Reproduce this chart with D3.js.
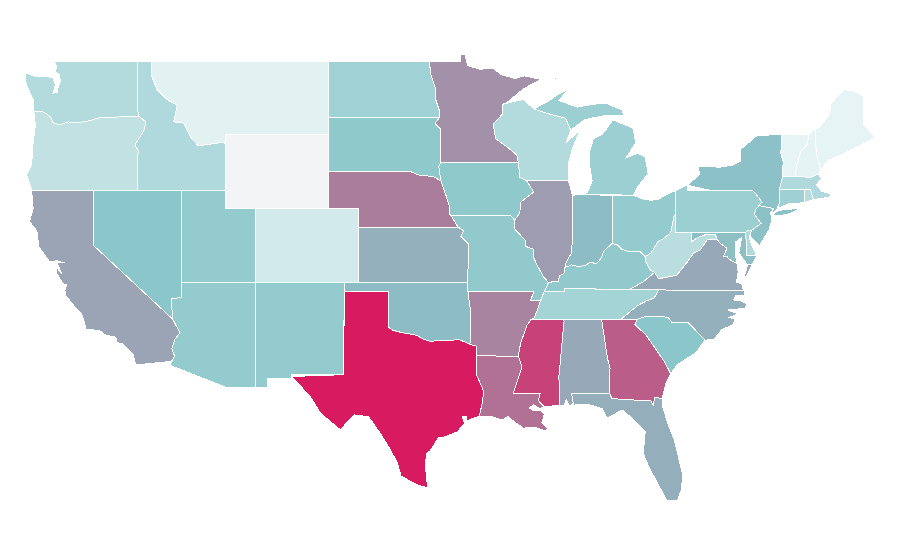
<!DOCTYPE html>
<html><head><meta charset="utf-8"><title>US states choropleth</title>
<style>html,body{margin:0;background:#fff}svg{display:block}</style>
<script src="https://cdn.jsdelivr.net/npm/d3@7/dist/d3.min.js"></script></head>
<body><svg id="map" width="900" height="560"></svg>
<script>
// Values
const stateNames=["Alabama","Arizona","Arkansas","California","Colorado","Connecticut","Delaware","Florida","Georgia","Idaho","Illinois","Indiana","Iowa","Kansas","Kentucky","Louisiana","Maine","Maryland","Massachusetts","Michigan","Minnesota","Mississippi","Missouri","Montana","Nebraska","Nevada","New Hampshire","New Jersey","New Mexico","New York","North Carolina","North Dakota","Ohio","Oklahoma","Oregon","Pennsylvania","Rhode Island","South Carolina","South Dakota","Tennessee","Texas","Utah","Vermont","Virginia","Washington","West Virginia","Wisconsin","Wyoming"];
const stateValues=[42,27,57,44,8.6,24,19,40,73,19,47,34,28.5,39,28,65,3,33,19,25,52,84,28,4.2,60,30,3.6,32,27.6,32,39,23.6,27,34,14,25,17,30,28.5,22,100,27,3,42,18,16,18,0];
const colorDomain=[0,3,30,100];
const colorRange=["#f3f4f6","#e6f4f5","#8ac6ca","#d81b60"];

// Shared boundaries, longitude / latitude
const columbia=[[-124.05,46.25],[-123.5,46.25],[-123.2,46.15],[-122.9,45.95],[-122.75,45.65],[-122.3,45.55],[-121.7,45.7],[-121.2,45.65],[-120.5,45.72],[-119.6,45.92],[-119,45.95],[-116.92,46]];
const snake=[[-116.92,46],[-116.45,45.7],[-116.6,45.2],[-116.85,44.9],[-117.2,44.45],[-117.05,44.25],[-116.95,44.1],[-117.03,43.8],[-117.03,42]];
const idahoMontana=[[-116.05,49],[-116.05,48.15],[-115.7,47.45],[-115,46.9],[-114.33,46.6],[-114.57,45.7],[-113.9,45.64],[-113.45,44.9],[-112.9,44.4],[-111.2,44.6],[-111.05,44.5]];
const coloradoRiver=[[-114.63,35],[-114.15,34.27],[-114.5,33.9],[-114.7,33.4],[-114.5,33],[-114.72,32.72]];
const redNorth=[[-97.23,49],[-97.15,48.3],[-96.85,47.6],[-96.8,46.9],[-96.55,46.3],[-96.56,45.93]];
const sdMn=[[-96.56,45.93],[-96.85,45.6],[-96.45,45.3],[-96.45,43.5]];
const missouriUpper=[[-96.45,43.5],[-96.6,43.3],[-96.45,42.5]];
const sdNe=[[-104.05,43],[-98.5,43],[-97.9,42.8],[-97,42.75],[-96.45,42.5]];
const missouriIaNe=[[-96.45,42.5],[-96.1,41.7],[-95.9,41.2],[-95.85,40.7],[-95.75,40.6]];
const missouriMoNe=[[-95.75,40.6],[-95.3,40]];
const missouriKs=[[-95.3,40],[-94.9,39.8],[-95.1,39.5],[-94.6,39.1],[-94.62,37]];
const redSouth=[[-100,34.56],[-99.7,34.4],[-99.2,34.3],[-98.1,34.13],[-97.7,33.95],[-97.2,33.8],[-96.6,33.85],[-96,33.85],[-95.2,33.9],[-94.48,33.64]];
const arOk=[[-94.62,36.5],[-94.43,35.4],[-94.48,33.64]];
const arkTx=[[-94.48,33.64],[-94.04,33.55],[-94.04,33.02]];
const laTx=[[-94.04,33.02],[-94.04,32],[-93.55,31.1],[-93.65,30.45],[-93.85,29.75]];
const missUpper=[[-91.2,43.5],[-91.1,42.7],[-90.64,42.5]];
const mnWi=[[-92.05,46.7],[-92.3,46.65],[-92.3,46.1],[-92.9,45.6],[-92.75,44.8],[-91.9,44.3],[-91.3,43.9],[-91.2,43.5]];
const missIaIl=[[-90.64,42.5],[-90.15,41.9],[-91.05,41.35],[-91.1,40.75],[-91.45,40.38]];
const missMoIl=[[-91.45,40.38],[-91.45,39.9],[-90.75,39.3],[-90.7,38.95],[-90.15,38.8],[-90.2,38.4],[-89.9,37.9],[-89.5,37.3],[-89.15,37]];
const missMoKy=[[-89.15,37],[-89.45,36.5]];
const missMoTn=[[-89.45,36.5],[-89.7,36]];
const missArTn=[[-89.7,36],[-90.1,35.1],[-90.3,35]];
const missArMs=[[-90.3,35],[-90.6,34.7],[-91.05,33.7],[-91.2,33]];
const missLaMs=[[-91.2,33],[-90.95,32.4],[-91.55,31],[-89.72,30.98],[-89.85,30.6],[-89.45,30.25]];
const wabash=[[-87.53,39.35],[-87.6,38.6],[-87.95,38.1],[-88.05,37.8]];
const ohioIl=[[-88.05,37.8],[-88.1,37.5],[-88.4,37.35],[-88.5,37.07],[-89.15,37]];
const ohioIn=[[-84.85,39.1],[-85.4,38.7],[-85.6,38.3],[-85.9,38],[-86.3,38.1],[-86.6,37.95],[-87.1,37.85],[-87.6,37.95],[-88.05,37.8]];
const ohioOh=[[-82.6,38.4],[-83,38.7],[-83.65,38.65],[-84.2,38.8],[-84.5,39.05],[-84.85,39.1]];
const ohioWv=[[-80.52,40.64],[-80.65,40.6],[-80.87,39.7],[-81.4,39.35],[-81.75,39.2],[-82.2,38.6],[-82.6,38.4]];
const bigSandy=[[-82.6,38.4],[-82.55,38.1],[-82.3,37.7],[-81.97,37.54]];
const kyVa=[[-81.97,37.54],[-82.7,37.05],[-83.68,36.6]];
const wvVa=[[-81.97,37.54],[-81.7,37.22],[-81.25,37.25],[-80.45,37.4],[-79.75,38.1],[-79.3,38.6],[-78.87,38.76],[-78.4,39.3],[-77.72,39.32]];
const potomacUp=[[-79.48,39.2],[-79,39.45],[-78.4,39.62],[-77.85,39.6],[-77.72,39.32]];
const potomacLow=[[-77.72,39.32],[-77.5,39.1],[-77.05,38.85],[-77.3,38.4],[-77.05,38.4],[-76.9,38.25],[-76.35,38.0]];
const ncTn=[[-84.25,35],[-83.1,35.75],[-82.5,36],[-82,36.15],[-81.68,36.59]];
const gaSc=[[-83.15,35],[-83.3,34.72],[-82.55,34.15],[-81.9,33.4],[-81.3,32.7],[-80.87,32.05]];
const ncSc=[[-83.15,35],[-82.6,35.15],[-81.05,35.12],[-80.8,34.85],[-79.65,34.8],[-78.55,33.87]];
const alGa=[[-85.55,34.98],[-85.15,32.85],[-84.98,32.35],[-85.05,31.55],[-85,30.98]];
const alMs=[[-88.2,34.98],[-88.1,34.9],[-88.45,31.9],[-88.4,30.35]];
const flGa=[[-85,30.98],[-84.86,30.7],[-82.2,30.57],[-82.05,30.36],[-81.95,30.75],[-81.45,30.72]];
const delaware=[[-75.4,39.8],[-74.75,40.2],[-75.2,40.7],[-75.1,40.95],[-74.7,41.36]];
const paNy=[[-79.76,42],[-75.35,42],[-75.05,41.75],[-74.7,41.36]];
const vtNh=[[-71.5,45.01],[-71.6,44.5],[-72.05,44.1],[-72.35,43.3],[-72.45,42.73]];
const meNh=[[-71.08,45.3],[-71,44],[-70.7,43.1]];
const r=a=>a.slice().reverse();
const join=(...parts)=>[].concat(...parts);

const washingtonRing=join([[-122.76,49],[-122.5,48.75],[-122.6,48.4],[-122.35,48.3],[-122.25,47.95],[-122.4,47.6],[-122.45,47.3],[-122.75,47.25],[-122.6,47.7],[-122.75,48.1],[-123.2,48.15],[-124,48.17],[-124.65,48.37],[-124.65,47.9],[-124.35,47.35],[-124.1,46.9],[-124.05,46.6]],columbia,[[-117.04,46.4],[-117.04,49]]);
const oregonRing=join(columbia,snake,[[-120,42],[-124.2,42],[-124.55,42.85],[-124.2,43.4],[-124.1,44.6],[-123.95,45.5]]);
const idahoRing=join([[-117.04,49]],idahoMontana,[[-111.05,42],[-117.03,42]],r(snake),[[-117.04,46.4]]);
const montanaRing=join(idahoMontana.slice(0,1),[[-104.05,49],[-104.05,45],[-111.05,45]],r(idahoMontana));
const wyomingRing=[[-111.05,45],[-104.05,45],[-104.05,41],[-111.05,41]];
const californiaRing=join([[-124.2,42],[-120,42],[-120,39]],coloradoRiver,[[-117.12,32.53],[-117.25,32.85],[-117.3,33.1],[-118,33.65],[-118.4,33.75],[-118.5,34.03],[-119.2,34.15],[-119.6,34.4],[-120.5,34.45],[-120.65,34.9],[-120.85,35.35],[-121.3,35.7],[-121.9,36.3],[-121.95,36.6],[-121.8,36.85],[-122.1,36.95],[-122.5,37.5],[-122.5,37.8],[-122.15,37.45],[-122.4,37.9],[-122.45,38.08],[-121.95,38.05],[-122.5,38.18],[-122.95,38.1],[-123.7,38.9],[-123.85,39.8],[-124.35,40.3],[-124.1,41]]);
const nevadaRing=[[-120,42],[-114.05,42],[-114.05,36.2],[-114.75,36.1],[-114.63,35],[-120,39]];
const utahRing=[[-114.05,42],[-111.05,42],[-111.05,41],[-109.05,41],[-109.05,37],[-114.05,37]];
const arizonaRing=join([[-114.05,37],[-109.05,37],[-109.05,31.33],[-111.07,31.33],[-114.8,32.5]],r(coloradoRiver),[[-114.75,36.1],[-114.05,36.2]]);
const coloradoRing=[[-109.05,41],[-102.05,41],[-102.05,37],[-109.05,37]];
const newMexicoRing=[[-109.05,37],[-103,37],[-103.05,32],[-106.6,32],[-106.53,31.78],[-108.2,31.78],[-108.2,31.33],[-109.05,31.33]];
const northDakotaRing=join([[-104.05,49]],redNorth,[[-104.05,45.94]]);
const southDakotaRing=join([[-104.05,45.94]],sdMn,missouriUpper,r(sdNe));
const nebraskaRing=join(sdNe,missouriIaNe,missouriMoNe,[[-102.05,40],[-102.05,41],[-104.05,41]]);
const kansasRing=join([[-102.05,40]],missouriKs,[[-102.04,37]]);
const oklahomaRing=join([[-103,37],[-94.62,37]],arOk,r(redSouth),[[-100,36.5],[-103,36.5]]);
const texasRing=join([[-103.05,32],[-103,36.5],[-100,36.5]],redSouth,arkTx,laTx,[[-94.7,29.5],[-94.72,29.72],[-95,29.72],[-94.85,29.35],[-95.35,28.9],[-96.3,28.6],[-96.6,28.6],[-97.2,27.85],[-97.4,27.75],[-97.5,27.2],[-97.45,26.6],[-97.35,25.87],[-98.05,26.02],[-99.15,26.5],[-99.4,27.2],[-99.85,27.9],[-100.55,28.8],[-101.35,29.72],[-102.35,29.82],[-102.75,29.5],[-103.25,29],[-103.7,29.3],[-104.6,29.9],[-105.3,30.8],[-106.57,31.9]]);
const iowaRing=join([[-96.45,43.5],[-91.2,43.5]],missUpper.slice(1),missIaIl,[[-91.7,40.6],[-95.75,40.6]],r(missouriIaNe),r(missouriUpper));
const minnesotaRing=join(redNorth.slice(0,1),[[-95.15,49],[-95.15,49.35],[-94.8,49.33],[-94.65,48.75],[-93.8,48.55],[-92.95,48.62],[-92.35,48.25],[-91.4,48.05],[-90.8,48.2],[-89.65,48],[-90.85,47.5]],mnWi,[[-96.45,43.5]],r(sdMn),r(redNorth));
const missouriRing=join([[-95.75,40.6],[-91.7,40.6]],missMoIl,missMoKy,missMoTn,[[-90.38,36],[-90.15,36.5],[-94.62,36.5],[-94.62,37]],r(missouriKs),r(missouriMoNe));
const arkansasRing=join([[-94.62,36.5],[-90.15,36.5],[-90.38,36]],missArTn,missArMs,[[-94.04,33.02]],r(arkTx),r(arOk));
const louisianaRing=join([[-94.04,33.02]],missLaMs,[[-89.75,30.15],[-90.15,30.37],[-90.45,30.2],[-90.2,30.05],[-89.7,30.05],[-89.45,29.85],[-89.6,29.4],[-89.2,29.1],[-89.4,28.95],[-90.05,29.15],[-90.85,29.1],[-91.3,29.35],[-91.9,29.72],[-92.3,29.55],[-93.1,29.75]],r(laTx));
const wisconsinRing=join([[-92.05,46.7],[-91.2,46.87],[-90.8,46.9],[-90.15,46.4],[-89.1,46.13],[-88,45.9],[-87.65,45.25],[-87.95,44.6],[-87.05,45.2],[-87.55,44.2],[-87.8,43.45],[-87.8,42.5],[-90.64,42.5]],r(missUpper),r(mnWi));
const illinoisRing=join([[-87.8,42.5],[-87.53,41.72],[-87.53,39.35]],wabash.slice(1),ohioIl,r(missMoIl),r(missIaIl));
const indianaRing=join([[-87.53,41.72],[-87.2,41.75],[-86.8,41.76],[-84.8,41.72]],ohioIn,r(wabash));
const ohioRing=join([[-84.8,41.72],[-83.4,41.73],[-82.7,41.5],[-82.2,41.45],[-81.7,41.5],[-81.2,41.75],[-80.52,41.98]],ohioWv,ohioOh);
const michiganLower=[[-86.8,41.76],[-86.5,41.9],[-86.2,42.5],[-86.4,43.45],[-86.4,44],[-86.1,44.8],[-85.55,45],[-85.2,45.35],[-84.85,45.75],[-84.7,45.78],[-83.4,45.35],[-83.25,44.55],[-83.9,43.75],[-83.1,44],[-82.6,43.8],[-82.4,42.9],[-83.1,42.2],[-83.4,41.73]];
const michiganUpper=[[-90.15,46.4],[-89.1,46.85],[-88.6,47.15],[-87.85,47.45],[-88.45,46.85],[-87.2,46.5],[-86.2,46.65],[-85.3,46.72],[-84.5,46.45],[-84.15,46.35],[-84.05,46.05],[-85.2,46.05],[-86.3,45.9],[-86.75,45.8],[-87.65,45.25],[-88,45.9],[-89.1,46.13]];
const isleRoyale=[[-89,47.95],[-88.5,48.17],[-88.55,48.05]];
const kentuckyRing=join([[-89.45,36.5],[-88.07,36.5],[-88.07,36.68],[-83.68,36.6]],r(kyVa),r(bigSandy),ohioOh,ohioIn,ohioIl,missMoKy);
const tennesseeRing=join([[-89.45,36.5],[-88.07,36.5],[-88.07,36.68],[-83.68,36.6],[-81.68,36.59]],r(ncTn),[[-88.2,34.98],[-90.3,35]],r(missArTn),r(missMoTn));
const mississippiRing=join([[-90.3,35]],alMs,[[-89.45,30.25]],r(missLaMs),r(missArMs));
const alabamaRing=join(alGa,[[-87.6,30.98],[-87.45,30.45],[-87.75,30.3],[-87.95,30.65],[-88.1,30.35]],r(alMs));
const georgiaRing=join([[-85.55,34.98]],gaSc,[[-81.2,31.5]],r(flGa),r(alGa));
const floridaRing=join([[-87.6,30.98]],flGa,[[-81.45,30.35],[-81,29.2],[-80.6,28.4],[-80.35,27.55],[-80.05,26.55],[-80.15,25.75],[-80.4,25.2],[-81.1,25.15],[-81.65,25.95],[-82.35,27],[-82.75,27.75],[-82.65,28.4],[-82.6,28.9],[-83.35,29.55],[-84.15,30.08],[-85.2,29.65],[-85.5,30.15],[-86.5,30.4],[-87.45,30.35]]);
const southCarolinaRing=join(ncSc,[[-79.15,33.2],[-80.4,32.55]],r(gaSc));
const northCarolinaRing=join([[-84.25,35]],ncSc,[[-77.95,33.9],[-77.4,34.45],[-76.65,34.7],[-76.5,35],[-76.9,35.1],[-76.3,35.3],[-77,35.5],[-75.8,35.6],[-75.72,35.85],[-76.1,36],[-76.6,36.05],[-76.45,36.3],[-75.85,36.3],[-75.85,36.56],[-81.68,36.59]],r(ncTn));
const virginiaRing=join([[-83.68,36.6],[-81.68,36.59],[-75.95,36.56],[-76.05,36.92],[-76.4,37.02],[-76.3,37.55]],r(potomacLow),r(wvVa),kyVa);
const virginiaShore=[[-75.95,37.15],[-75.65,37.95],[-75.3,38],[-75.65,37.45]];
const westVirginiaRing=join(r(bigSandy),r(ohioWv),[[-80.52,39.72],[-79.48,39.72]],potomacUp,r(wvVa));
const marylandRing=join([[-79.48,39.72],[-75.79,39.72],[-75.7,38.46],[-75.05,38.45],[-75.3,38],[-75.65,37.95],[-75.9,38.2],[-76.25,38.6],[-76.05,39.45],[-76.45,39.2],[-76.5,38.5]],r(potomacLow),r(potomacUp));
const delawareRing=[[-75.79,39.72],[-75.6,39.83],[-75.4,39.8],[-75.55,39.45],[-75.4,39.05],[-75.05,38.45],[-75.7,38.46]];
const pennsylvaniaRing=join([[-80.52,41.98],[-79.76,42.27]],paNy,r(delaware),[[-75.6,39.83],[-75.79,39.72],[-80.52,39.72]]);
const newJerseyRing=join(delaware,[[-73.9,41],[-74.1,40.75],[-74,40.4],[-74.2,39.85],[-74.85,38.98],[-75.5,39.5]]);
const newYorkRing=join(r(paNy),[[-73.9,41],[-74,40.72],[-73.65,41],[-73.5,41.3],[-73.5,42.05],[-73.27,42.75],[-73.25,43.55],[-73.4,44],[-73.34,45.01],[-75,44.97],[-76.15,44.2],[-76.15,43.55],[-76.7,43.35],[-77.5,43.25],[-79,43.27],[-78.9,42.85],[-79.76,42.27]]);
const longIsland=[[-74,40.6],[-73.6,40.9],[-72.6,40.98],[-71.95,41.05],[-72.7,40.75],[-73.5,40.6]];
const connecticutRing=[[-73.5,42.05],[-71.8,42.02],[-71.8,41.32],[-72.9,41.25],[-73.65,41],[-73.5,41.3]];
const rhodeIslandRing=[[-71.8,42.02],[-71.38,42.02],[-71.2,41.5],[-71.8,41.32]];
const massachusettsRing=[[-73.5,42.05],[-73.27,42.75],[-72.45,42.73],[-71.3,42.7],[-70.85,42.88],[-70.65,42.6],[-71,42.3],[-70.65,41.95],[-70.05,41.8],[-70,41.65],[-70.65,41.55],[-71.2,41.5],[-71.38,42.02],[-71.8,42.02]];
const vermontRing=join([[-73.34,45.01]],vtNh,[[-73.27,42.75],[-73.25,43.55],[-73.4,44]]);
const newHampshireRing=join(vtNh.slice(0,1),meNh,[[-70.85,42.88],[-71.3,42.7]],r(vtNh));
const maineRing=join(meNh,[[-70.2,43.6],[-69.35,43.9],[-68.2,44.35],[-67,44.82],[-67.45,45.3],[-67.8,45.6],[-67.8,47.1],[-68.35,47.35],[-69.1,47.45],[-70,46.7],[-70.1,46.2],[-70.3,45.9],[-70.8,45.4]]);

const stateRings=[[alabamaRing],[arizonaRing],[arkansasRing],[californiaRing],[coloradoRing],[connecticutRing],[delawareRing],[floridaRing],[georgiaRing],[idahoRing],[illinoisRing],[indianaRing],[iowaRing],[kansasRing],[kentuckyRing],[louisianaRing],[maineRing],[marylandRing],[massachusettsRing],[michiganLower,michiganUpper,isleRoyale],[minnesotaRing],[mississippiRing],[missouriRing],[montanaRing],[nebraskaRing],[nevadaRing],[newHampshireRing],[newJerseyRing],[newMexicoRing],[newYorkRing,longIsland],[northCarolinaRing],[northDakotaRing],[ohioRing],[oklahomaRing],[oregonRing],[pennsylvaniaRing],[rhodeIslandRing],[southCarolinaRing],[southDakotaRing],[tennesseeRing],[texasRing],[utahRing],[vermontRing],[virginiaRing,virginiaShore],[washingtonRing],[westVirginiaRing],[wisconsinRing],[wyomingRing]];

const x=d3.scaleLinear().domain([-111.05,-66.95]).range([225.6,876]);
const y=d3.scaleLinear().domain([49,25]).range([61,503.8]);
const color=d3.scaleLinear().domain(colorDomain).range(colorRange);
const path=d3.geoPath(d3.geoTransform({point(lon,lat){this.stream.point(x(lon),y(lat));}}));

const features=stateNames.map((name,i)=>({type:"Feature",properties:{name,value:stateValues[i]},
  geometry:{type:"MultiPolygon",coordinates:stateRings[i].map(ring=>[ring.concat([ring[0]])])}}));

d3.select("#map").selectAll("path").data(features).join("path")
  .attr("d",path).attr("fill",d=>color(d.properties.value))
  .attr("stroke","#fff").attr("stroke-width",1)
  .attr("shape-rendering","crispEdges")
  .append("title").text(d=>d.properties.name);
</script></body></html>
